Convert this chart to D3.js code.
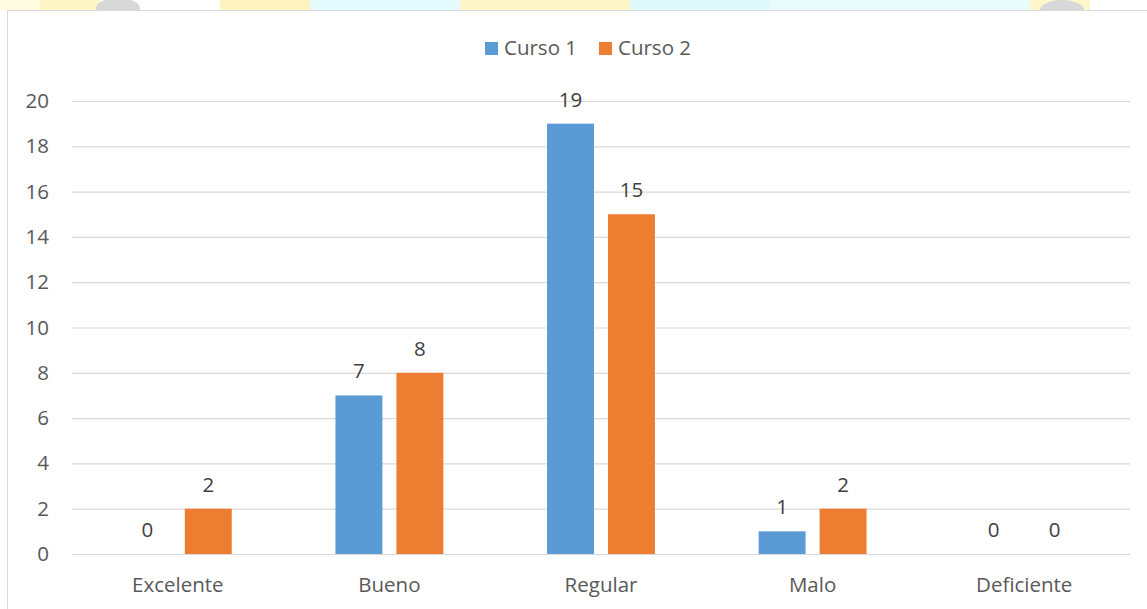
<!DOCTYPE html>
<html><head><meta charset="utf-8">
<script src="https://cdn.jsdelivr.net/npm/d3@7"></script>
<style>html,body{margin:0;padding:0;background:#fff;}svg{display:block;}</style>
</head><body>
<svg id="c" width="1147" height="609"></svg>
<script>
const categories = ["Excelente", "Bueno", "Regular", "Malo", "Deficiente"];
const seriesNames = ["Curso 1", "Curso 2"];
const curso1 = [0, 7, 19, 1, 0];
const curso2 = [2, 8, 15, 2, 0];
const yTicks = [0, 2, 4, 6, 8, 10, 12, 14, 16, 18, 20];
const colors = ["#5b9bd5", "#ed7d31"];

(function () {
const svg = d3.select("#c");
const font = "'Open Sans', sans-serif";
const fs = "20.5px";

// faint watermark strip above the chart frame
const strip = svg.append("g");
const stripCols = [["#fffbe0",0,40],["#fff6c8",40,60],["#ffffff",100,220],["#fdf3c0",220,90],["#e6fbfd",310,150],["#fdf6c9",460,170],["#dff9fb",630,140],["#e8fcfd",770,260],["#fff6cc",1030,60],["#ffffff",1090,57]];
strip.selectAll("rect").data(stripCols).join("rect")
  .attr("x", d => d[1]).attr("y", 0).attr("width", d => d[2]).attr("height", 10).attr("fill", d => d[0]);
strip.append("ellipse").attr("cx", 118).attr("cy", 8).attr("rx", 22).attr("ry", 10).attr("fill", "#d8d8d8");
strip.append("ellipse").attr("cx", 1062).attr("cy", 10).attr("rx", 22).attr("ry", 10).attr("fill", "#d8d8d8");

// chart frame
svg.append("rect").attr("x", 7.5).attr("y", 10.5).attr("width", 1160).attr("height", 620)
  .attr("fill", "#fff").attr("stroke", "#d9d9d9").attr("stroke-width", 1);

const pLeft = 72, pRight = 1130, pTop = 101, pBottom = 554;
const y = d3.scaleLinear().domain([0, 20]).range([pBottom, pTop]);
const x0 = d3.scaleBand().domain(categories).range([pLeft, pRight]).paddingInner(0.49).paddingOuter(0.245);
const x1 = d3.scaleBand().domain(seriesNames).range([0, x0.bandwidth()]).paddingInner(0.23);

const yAxis = d3.axisLeft(y).tickValues(yTicks).tickSize(-(pRight - pLeft)).tickPadding(23);
const ga = svg.append("g").attr("transform", `translate(${pLeft},0)`).call(yAxis);
ga.select(".domain").remove();
ga.selectAll(".tick line").attr("stroke", "#d9d9d9").attr("stroke-width", 1.2);
ga.selectAll(".tick text").attr("fill", "#595959").style("font-family", font).style("font-size", fs);

const xAxis = d3.axisBottom(x0).tickSize(0).tickPadding(23);
const gx = svg.append("g").attr("transform", `translate(0,${pBottom})`).call(xAxis);
gx.select(".domain").remove();
gx.selectAll(".tick text").attr("fill", "#595959").style("font-family", font).style("font-size", fs);

const data = categories.map((c, i) => ({cat: c, vals: [curso1[i], curso2[i]]}));
const groups = svg.append("g").selectAll("g").data(data).join("g")
  .attr("transform", d => `translate(${x0(d.cat)},0)`);
groups.selectAll("rect").data(d => d.vals.map((v, j) => ({s: seriesNames[j], v, j})))
  .join("rect")
  .attr("x", d => x1(d.s)).attr("width", x1.bandwidth())
  .attr("y", d => y(d.v)).attr("height", d => y(0) - y(d.v))
  .attr("fill", d => colors[d.j]);
groups.selectAll("text").data(d => d.vals.map((v, j) => ({s: seriesNames[j], v, j})))
  .join("text")
  .attr("x", d => x1(d.s) + x1.bandwidth() / 2).attr("y", d => y(d.v) - 17)
  .attr("text-anchor", "middle").attr("fill", "#404040")
  .style("font-family", font).style("font-size", fs).text(d => d.v);

const legendX = [485, 599];
const lg = svg.append("g").selectAll("g").data(seriesNames).join("g")
  .attr("transform", (d, i) => `translate(${legendX[i]},42)`);
lg.append("rect").attr("width", 13).attr("height", 13).attr("fill", (d, i) => colors[i]);
lg.append("text").attr("x", 19).attr("y", 13).attr("fill", "#595959")
  .style("font-family", font).style("font-size", fs).text(d => d);
})();
</script>
</body></html>
